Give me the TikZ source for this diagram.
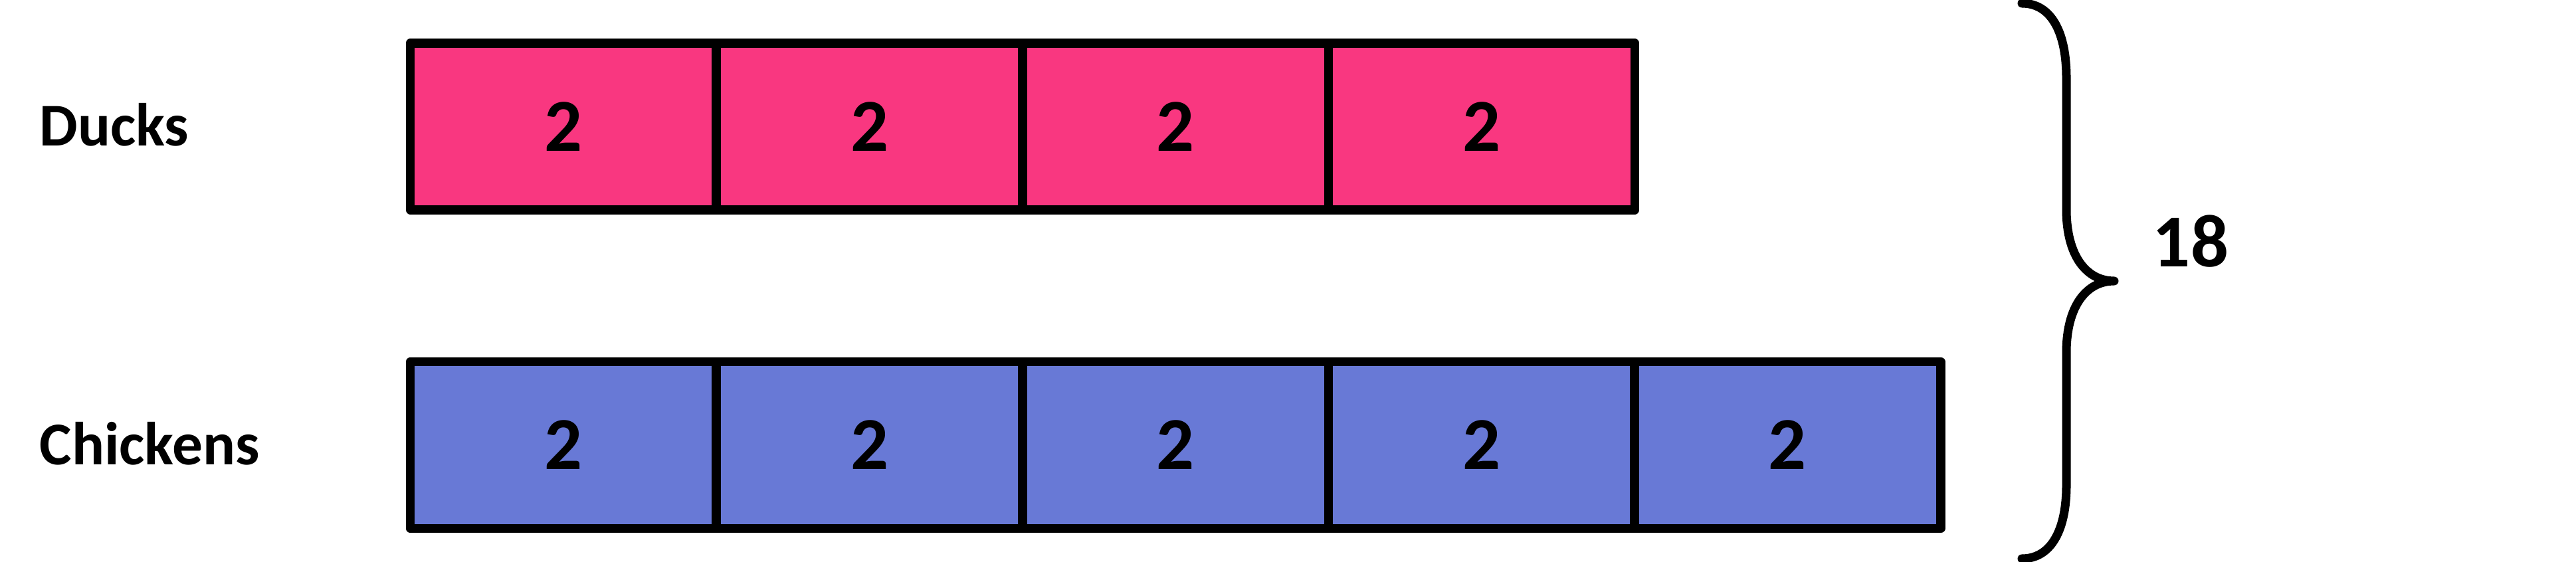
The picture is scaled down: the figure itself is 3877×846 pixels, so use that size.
\documentclass[tikz,border=0pt]{standalone}
\usepackage{fontspec}
\setmainfont{Carlito}
\definecolor{duckpink}{HTML}{F93780}
\definecolor{chickblue}{HTML}{6879D6}
\tikzset{
  unitbox/.style={draw=black, line width=0.135cm, line join=round, rectangle,
    minimum width=4.606cm, minimum height=2.51cm, inner sep=0pt, outer sep=0pt,
    font=\fontsize{32}{32}\selectfont\bfseries},
  duckbox/.style={unitbox, fill=duckpink},
  chickbox/.style={unitbox, fill=chickblue},
  rowlabel/.style={anchor=base west, inner sep=0pt, font=\fontsize{26}{26}\selectfont\bfseries},
  totallabel/.style={inner sep=0pt, font=\fontsize{32}{32}\selectfont\bfseries},
  bracestroke/.style={draw=black, line width=0.13cm, line cap=round, line join=round}
}
\begin{document}
\begin{tikzpicture}[x=0.01cm, y=-0.01cm]
\useasboundingbox (0,0) rectangle (3877,846);
% Ducks row
\node[duckbox] (d1) at (848.0,190.5) {2};
\node[duckbox] (d2) at (1308.6,190.5) {2};
\node[duckbox] (d3) at (1769.2,190.5) {2};
\node[duckbox] (d4) at (2229.8,190.5) {2};
% Chickens row
\node[chickbox] (c1) at (848.0,670) {2};
\node[chickbox] (c2) at (1308.6,670) {2};
\node[chickbox] (c3) at (1769.2,670) {2};
\node[chickbox] (c4) at (2229.8,670) {2};
\node[chickbox] (c5) at (2690.4,670) {2};
% labels
\node[rowlabel] (ducks) at (59,220) {Ducks};
\node[rowlabel] (chickens) at (59,699) {Chickens};
\node[totallabel] (total) at (3297,363) {18};
% brace
\draw[bracestroke] (3043,5) .. controls (3088,5) and (3110,50) .. (3110,117)
  -- (3110,315) .. controls (3110,385) and (3140,423) .. (3182,423)
  .. controls (3140,423) and (3110,461) .. (3110,531)
  -- (3110,731) .. controls (3110,796) and (3088,841) .. (3043,841);
\end{tikzpicture}
\end{document}
